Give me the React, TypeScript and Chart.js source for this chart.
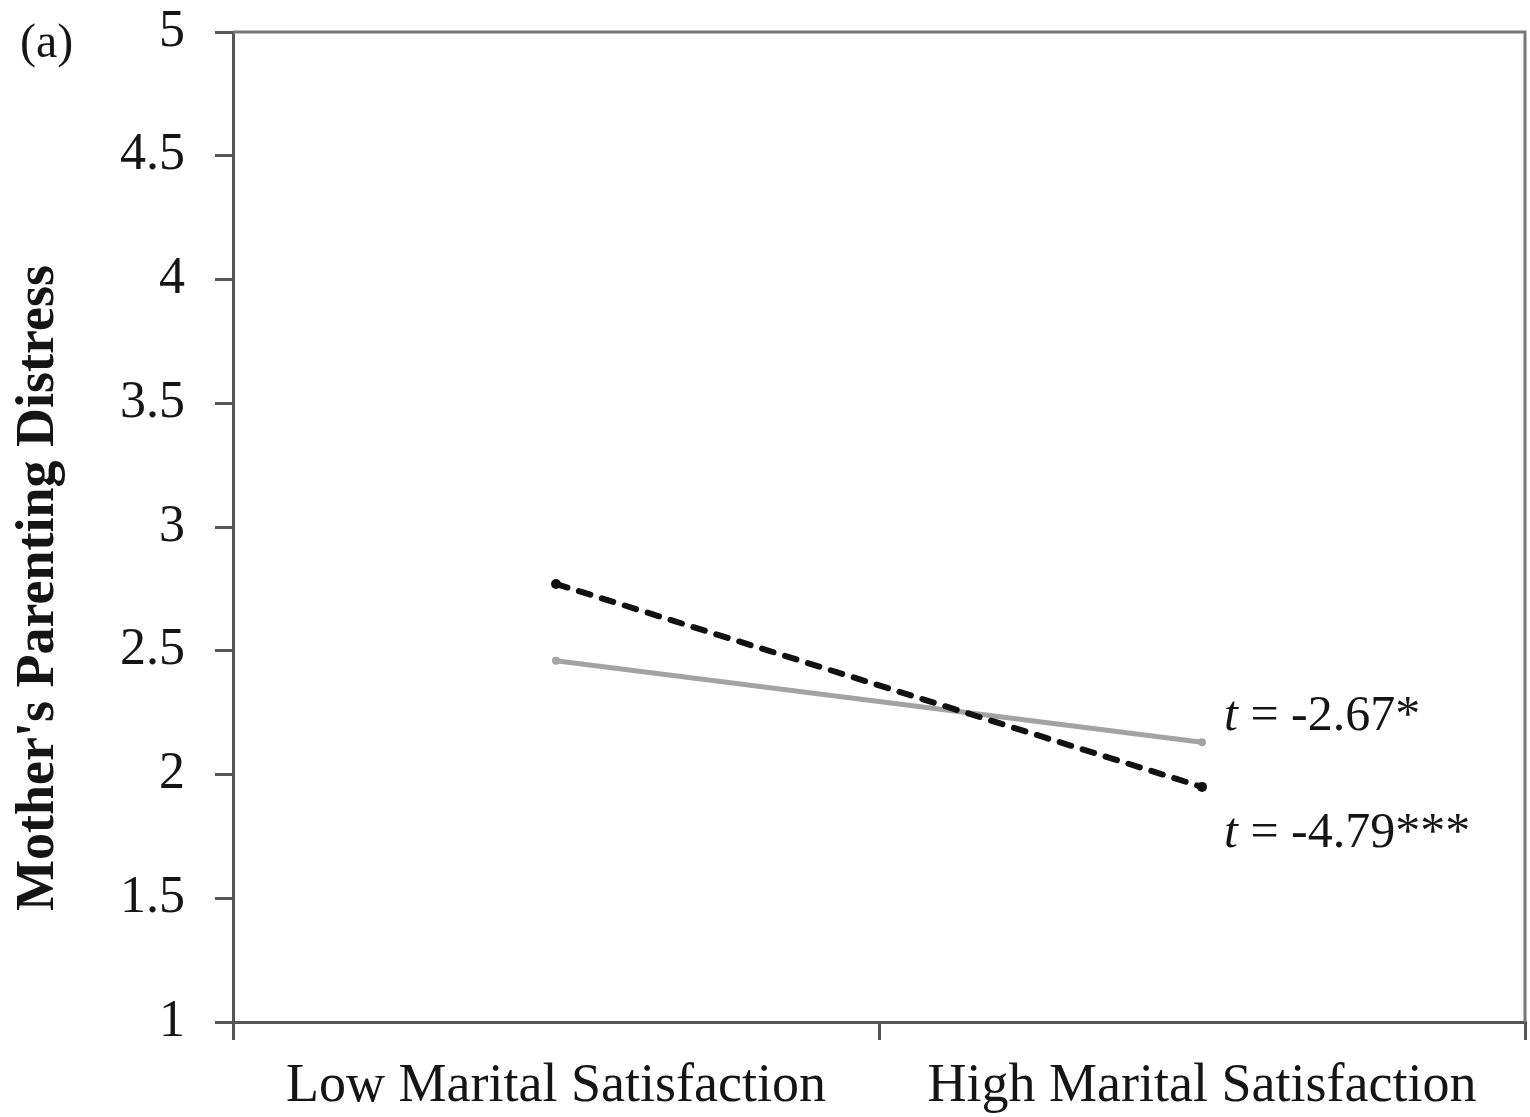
import React, { useEffect, useRef } from "react";
import { Chart, registerables } from "chart.js";

Chart.register(...registerables);

const categories = ["Low Marital Satisfaction", "High Marital Satisfaction"];
const dashedSeries = [2.77, 1.95];
const graySeries = [2.46, 2.13];
const yTicks = [1, 1.5, 2, 2.5, 3, 3.5, 4, 4.5, 5];
const yTitle = "Mother's Parenting Distress";
const panelLabel = "(a)";
const annotationValues = ["= -2.67*", "= -4.79***"];
const annotationY = [2.18, 1.707];

const SERIF = "'Liberation Serif', 'Times New Roman', serif";

const textPlugin = {
  id: "extraText",
  afterDraw(chart: any) {
    const { ctx, chartArea, scales } = chart;
    ctx.save();
    ctx.strokeStyle = "#777";
    ctx.lineWidth = 3;
    ctx.beginPath();
    ctx.moveTo(chartArea.left, chartArea.top);
    ctx.lineTo(chartArea.right, chartArea.top);
    ctx.lineTo(chartArea.right, chartArea.bottom);
    ctx.stroke();

    ctx.fillStyle = "#151515";
    ctx.font = `48px ${SERIF}`;
    ctx.textAlign = "left";
    ctx.textBaseline = "alphabetic";
    ctx.fillText(panelLabel, 20, 57);

    ctx.save();
    ctx.translate(39, 588);
    ctx.rotate(-Math.PI / 2);
    ctx.font = `bold 54px ${SERIF}`;
    ctx.textAlign = "center";
    ctx.textBaseline = "middle";
    ctx.fillText(yTitle, 0, 0);
    ctx.restore();

    const x0 = scales.x.getPixelForValue(1) + 22;
    annotationValues.forEach((txt, i) => {
      const y = scales.y.getPixelForValue(annotationY[i]);
      ctx.textAlign = "left";
      ctx.textBaseline = "alphabetic";
      ctx.font = `italic 50px ${SERIF}`;
      ctx.fillText("t", x0, y);
      const w = ctx.measureText("t ").width;
      ctx.font = `50px ${SERIF}`;
      ctx.fillText(txt, x0 + w, y);
    });
    ctx.restore();
  },
};

export default function App() {
  const ref = useRef<HTMLCanvasElement | null>(null);
  useEffect(() => {
    if (!ref.current) return;
    const chart = new Chart(ref.current, {
      type: "line",
      data: {
        labels: categories,
        datasets: [
          {
            data: dashedSeries,
            borderColor: "#111",
            backgroundColor: "#111",
            borderWidth: 6,
            borderDash: [12, 12],
            borderCapStyle: "round",
            pointRadius: 5,
            pointBorderWidth: 0,
            pointBackgroundColor: "#111",
          },
          {
            data: graySeries,
            borderColor: "#a3a3a3",
            backgroundColor: "#a3a3a3",
            borderWidth: 5,
            pointRadius: 4,
            pointBorderWidth: 0,
            pointBackgroundColor: "#a3a3a3",
          },
        ],
      },
      options: {
        responsive: false,
        animation: false,
        layout: { padding: { top: 32, right: 2, left: 0, bottom: 0 } },
        plugins: { legend: { display: false }, tooltip: { enabled: false }, title: { display: false } },
        scales: {
          x: {
            type: "category",
            offset: true,
            grid: { offset: true, drawOnChartArea: false, drawTicks: true, tickLength: 18, color: "#555", lineWidth: 3 },
            border: { display: true, color: "#555", width: 3 },
            ticks: { font: { family: SERIF, size: 54 }, color: "#151515", padding: 14, maxRotation: 0, autoSkip: false },
            afterFit: (s: any) => { s.height = 95; s.paddingLeft = 0; s.paddingRight = 0; },
          },
          y: {
            min: 1,
            max: 5,
            afterBuildTicks: (s: any) => { s.ticks = yTicks.map((v) => ({ value: v })); },
            grid: { drawOnChartArea: false, drawTicks: true, tickLength: 18, color: "#555", lineWidth: 3 },
            border: { display: true, color: "#555", width: 3 },
            ticks: { font: { family: SERIF, size: 52 }, color: "#151515", padding: 30, callback: (v: any) => String(v) },
            afterFit: (s: any) => { s.width = 233; s.paddingTop = 0; s.paddingBottom = 0; },
          },
        },
      },
      plugins: [textPlugin],
    });
    return () => chart.destroy();
  }, []);
  return (
    <div style={{ position: "absolute", left: 0, top: 0, width: 1530, height: 1117, background: "#fff" }}>
      <canvas ref={ref} width={1530} height={1117} style={{ display: "block" }} />
    </div>
  );
}
